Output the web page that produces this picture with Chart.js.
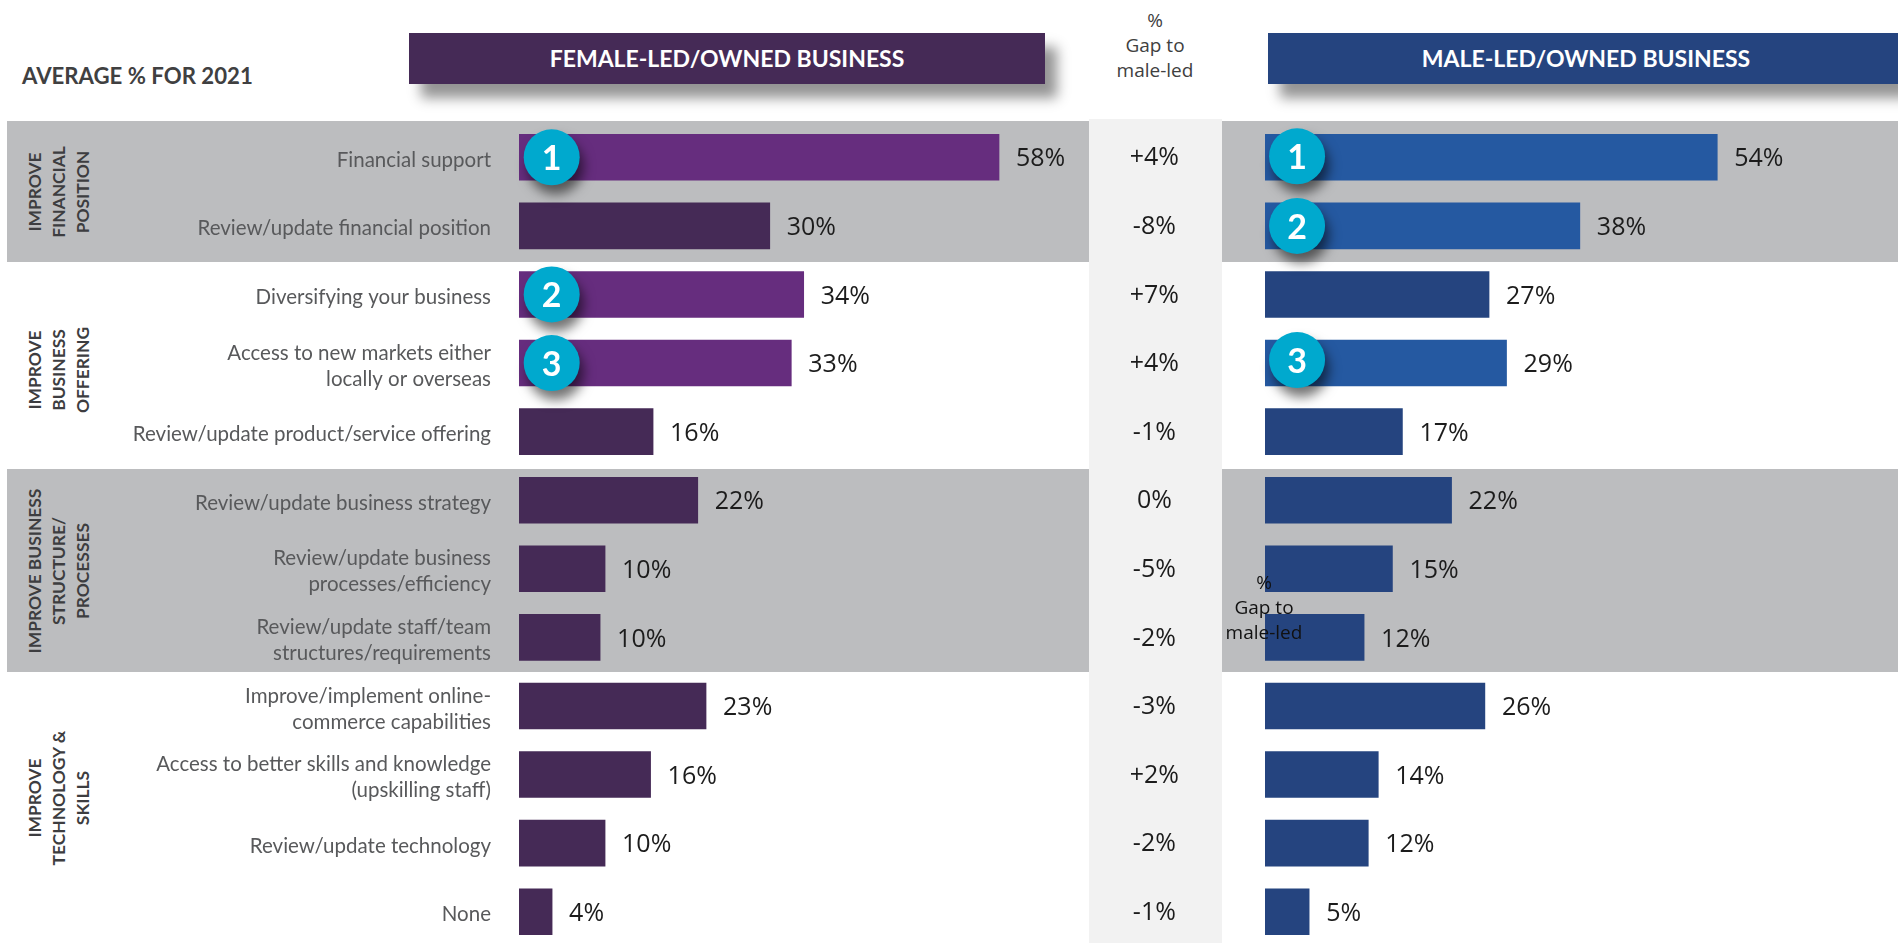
<!DOCTYPE html>
<html>
<head>
<meta charset="utf-8">
<script src="https://cdn.jsdelivr.net/npm/chart.js@4"></script>
<style>
  html, body { margin: 0; padding: 0; width: 1898px; height: 943px; overflow: hidden; background: #fff; }
  canvas { position: absolute; top: 123px; }
  .band { position: absolute; background: #bcbdbf; }
  #gapCol { position: absolute; left: 1089px; width: 133px; top: 119px; bottom: 0; background: #f2f2f2; }
  .head { position: absolute; top: 33px; height: 51px; color: #fff; text-align: center;
          font: bold 23px/51px Lato; box-shadow: 12px 14px 12px rgba(0,0,0,.42); }
  #avg { position: absolute; left: 22px; top: 61px; font: bold 22.2px/30px Lato; color: #404041; white-space: nowrap; }
  .gapHead { position: absolute; width: 120px; text-align: center; font: 19px/25px "Open Sans"; }
  .group { position: absolute; width: 240px; text-align: center; font: bold 17.4px/24px Lato; color: #3d3d40;
           transform: translate(-50%, -50%) rotate(-90deg); }
</style>
</head>
<body>
<div class="band" style="left:7px;width:1082px;top:121px;height:141px"></div>
<div class="band" style="left:1222px;width:676px;top:121px;height:141px"></div>
<div class="band" style="left:7px;width:1082px;top:469px;height:203px"></div>
<div class="band" style="left:1222px;width:676px;top:469px;height:203px"></div>
<div id="gapCol"></div>

<div id="avg">AVERAGE % FOR 2021</div>
<div class="head" style="left:409px;width:636px;background:#452a56">FEMALE-LED/OWNED BUSINESS</div>
<div class="head" style="left:1268px;width:624px;padding-left:6px;background:#25447f">MALE-LED/OWNED BUSINESS</div>
<div class="gapHead" style="left:1095px;top:8px;color:#404040">%<br>Gap to<br>male-led</div>

<div class="group" style="left:59px;top:192px">IMPROVE<br>FINANCIAL<br>POSITION</div>
<div class="group" style="left:59px;top:370px">IMPROVE<br>BUSINESS<br>OFFERING</div>
<div class="group" style="left:59px;top:571px">IMPROVE BUSINESS<br>STRUCTURE/<br>PROCESSES</div>
<div class="group" style="left:59px;top:798px">IMPROVE<br>TECHNOLOGY &amp;<br>SKILLS</div>

<canvas id="femaleChart" width="1100" height="823" style="left:0"></canvas>
<canvas id="maleChart" width="809" height="823" style="left:1089px"></canvas>

<div class="gapHead" style="left:1204px;top:570px;color:#111">%<br>Gap to<br>male-led</div>

<script>
const categories = [
  'Financial support',
  'Review/update financial position',
  'Diversifying your business',
  ['Access to new markets either', 'locally or overseas'],
  'Review/update product/service offering',
  'Review/update business strategy',
  ['Review/update business', 'processes/efficiency'],
  ['Review/update staff/team', 'structures/requirements'],
  ['Improve/implement online-', 'commerce capabilities'],
  ['Access to better skills and knowledge', '(upskilling staff)'],
  'Review/update technology',
  'None'
];
// bar lengths, labels are these rounded
const femaleValues = [58, 30.3, 34.4, 32.9, 16.2, 21.6, 10.4, 9.8, 22.6, 15.9, 10.4, 4];
const maleValues = [54.3, 37.8, 26.9, 29, 16.5, 22.4, 15.3, 11.9, 26.4, 13.6, 12.4, 5.3];
const gapLabels = ['+4%', '-8%', '+7%', '+4%', '-1%', '0%', '-5%', '-2%', '-3%', '+2%', '-2%', '-1%'];
// top three for each side, 0 = not ranked
const femaleRanks = [1, 0, 2, 3, 0, 0, 0, 0, 0, 0, 0, 0];
const maleRanks = [1, 2, 0, 3, 0, 0, 0, 0, 0, 0, 0, 0];

// value label at the end of each bar + the numbered circles
const barExtras = {
  id: 'barExtras',
  afterDatasetsDraw(chart, args, opts) {
    const ctx = chart.ctx, xs = chart.scales.x, ys = chart.scales.y;
    const vals = chart.data.datasets[0].data;
    ctx.save();
    vals.forEach((v, i) => {
      ctx.font = '25px "Open Sans"';
      ctx.fillStyle = '#1c1c1c';
      ctx.textAlign = 'left';
      ctx.textBaseline = 'middle';
      ctx.fillText(Math.round(v) + '%', xs.getPixelForValue(v) + 17, ys.getPixelForValue(i) + 2);
    });
    opts.ranks.forEach((r, i) => {
      if (!r) return;
      const x = xs.getPixelForValue(opts.badgeAt);
      const y = ys.getPixelForValue(i) + (opts.badgeShift[i] || 0);
      ctx.save();
      ctx.shadowColor = 'rgba(0,0,0,.55)';
      ctx.shadowBlur = 12;
      ctx.shadowOffsetX = 4;
      ctx.shadowOffsetY = 9;
      ctx.fillStyle = '#00a9ce';
      ctx.beginPath();
      ctx.arc(x, y, 28, 0, Math.PI * 2);
      ctx.fill();
      ctx.restore();
      ctx.fillStyle = '#fff';
      ctx.font = 'bold 34px Lato';
      ctx.textAlign = 'center';
      ctx.fillText(r, x, y + 2);
    });
    ctx.restore();
  }
};

function makeChart(id, labels, values, ranks, dark, bright, xMax, axisWidth, tickOpts, badgeAt, badgeShift) {
  return new Chart(document.getElementById(id), {
    type: 'bar',
    plugins: [barExtras],
    data: {
      labels: labels,
      datasets: [{
        data: values,
        backgroundColor: ranks.map(r => r ? bright : dark),
        barThickness: 46,
        borderWidth: 0
      }]
    },
    options: {
      indexAxis: 'y',
      responsive: false,
      animation: false,
      layout: { padding: 0 },
      plugins: {
        legend: { display: false },
        tooltip: { enabled: false },
        barExtras: { ranks: ranks, badgeAt: badgeAt, badgeShift: badgeShift }
      },
      scales: {
        x: { display: false, min: 0, max: xMax },
        y: {
          grid: { display: false, drawTicks: false },
          border: { display: false },
          // tick padding also eats into the top and bottom of the axis, so drop that
          afterFit: s => { s.width = axisWidth; s.paddingTop = 0; s.paddingBottom = 0; },
          ticks: Object.assign({ autoSkip: false }, tickOpts)
        }
      }
    }
  });
}

makeChart('femaleChart', categories, femaleValues, femaleRanks, '#452a56', '#662d7e',
  70.2, 519, {
    padding: 28,
    labelOffset: 3,
    color: '#58595b',
    font: { family: 'Lato', size: 20.5, lineHeight: 1.27 }
  }, 3.95, {});

makeChart('maleChart', gapLabels, maleValues, maleRanks, '#25447f', '#2559a1',
  76, 176, {
    padding: 86,
    labelOffset: 1,
    crossAlign: 'center',
    color: '#1c1c1c',
    font: { family: 'Open Sans', size: 25 }
  }, 3.85, { 0: -1, 3: -3 });
</script>
</body>
</html>
